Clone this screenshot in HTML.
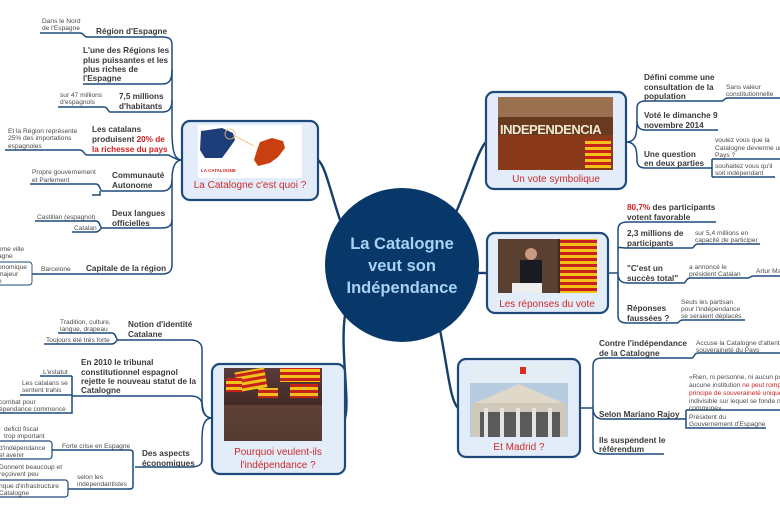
<!DOCTYPE html>
<html><head><meta charset="utf-8"><style>
html,body{margin:0;padding:0;background:#fff;width:780px;height:516px;overflow:hidden}
svg{display:block}
text{font-family:"Liberation Sans",sans-serif}
.m{font-size:8.2px;font-weight:bold;fill:#3a3a3a}
.s{font-size:6.6px;fill:#4a4a4a}
.r{fill:#d02020}
.l{fill:none;stroke:#1d4a7a;stroke-width:1.5}
.t{fill:none;stroke:#163e6b;stroke-width:2.4}
.box{fill:#e3edfa;stroke:#1d4a7a;stroke-width:2.2}
.lab{font-size:10px;fill:#d02a2a;text-anchor:middle}
</style></head><body>
<svg width="780" height="516" viewBox="0 0 780 516" xmlns="http://www.w3.org/2000/svg">
<defs>
<linearGradient id="crowd" x1="0" y1="0" x2="0" y2="1"><stop offset="0" stop-color="#5a3a3a"/><stop offset="1" stop-color="#2a1a14"/></linearGradient>
<pattern id="flag" width="6" height="6" patternUnits="userSpaceOnUse"><rect width="6" height="6" fill="#f2c21a"/><rect width="6" height="3" fill="#c8201a"/></pattern>
</defs>

<!-- center connectors -->
<path class="t" d="M340,220 C330,190 325,165 318,160"/>
<path class="t" d="M345,315 C340,350 350,400 345,418"/>
<path class="t" d="M455,215 C470,180 478,150 486,142"/>
<path class="t" d="M478,273 L487,273"/>
<path class="t" d="M440,330 C448,370 450,400 458,408"/>

<!-- center circle -->
<circle cx="402" cy="265" r="77" fill="#073869"/>
<text x="402" y="249" text-anchor="middle" font-size="16.5" font-weight="bold" fill="#a9d1f5">La Catalogne</text>
<text x="402" y="271" text-anchor="middle" font-size="16.5" font-weight="bold" fill="#a9d1f5">veut son</text>
<text x="402" y="293" text-anchor="middle" font-size="16.5" font-weight="bold" fill="#a9d1f5">Indépendance</text>

<!-- LEFT TOP box -->
<rect class="box" x="182" y="121" width="136" height="79" rx="8"/>
<rect x="198" y="125" width="104" height="53" fill="#fff"/>
<path d="M201,131 L222,128 L233,133 L235,140 L228,150 L222,158 L205,158 L200,150 Z" fill="#1e3e7a"/>
<circle cx="230" cy="134" r="5" fill="none" stroke="#f4b870" stroke-width="0.8"/>
<path d="M235,136 L254,146" stroke="#f4b870" stroke-width="0.8"/>
<path d="M260,142 L272,138 L283,141 L285,148 L278,157 L270,163 L258,166 L254,160 L257,150 Z" fill="#c8400f"/>
<text x="201" y="172" font-size="4.5" font-weight="bold" fill="#d02020">LA CATALOGNE</text>
<text x="250" y="188" class="lab">La Catalogne c'est quoi ?</text>

<!-- left top branches -->
<path class="l" d="M182,160 C174,160 172,150 172,130 L172,45 C172,38 168,37 162,37 L87,37 C84,37 84,33 80,33 L40,33"/>
<path class="l" d="M172,70 C172,82 168,84 162,84 L83,84"/>
<path class="l" d="M172,100 C172,110 168,112 162,112 L110,112 C108,112 108,107 104,107 L58,107"/>
<path class="l" d="M182,160 C175,160 172,156 168,155 L87,155 C84,155 84,150 80,150 L5,150"/>
<path class="l" d="M182,160 C174,160 172,170 172,180 C172,188 168,191 162,191 L102,191 C100,191 100,184 96,184 L30,184 M100,191 L100,195 L92,195"/>
<path class="l" d="M172,180 L172,220 C172,226 168,228 162,228 L102,228 C100,228 100,221 96,221 L35,221 M102,228 C100,228 100,232 96,232 L72,232"/>
<path class="l" d="M172,220 L172,265 C172,272 168,274 162,274 L80,274 C76,274 76,274 72,274 L32,274"/>
<rect x="-6" y="262" width="38" height="23" rx="3" fill="#fff" stroke="#1d4a7a" stroke-width="0.9"/>

<text class="m" x="96" y="34">Région d'Espagne</text>
<text class="s" x="42" y="23">Dans le Nord</text><text class="s" x="42" y="30">de l'Espagne</text>
<text class="m" x="83" y="53">L'une des Régions les</text>
<text class="m" x="83" y="63">plus puissantes et les</text>
<text class="m" x="83" y="72">plus riches de</text>
<text class="m" x="83" y="81">l'Espagne</text>
<text class="m" x="119" y="99">7,5 millions</text>
<text class="m" x="119" y="109">d'habitants</text>
<text class="s" x="60" y="97">sur 47 millions</text><text class="s" x="60" y="104">d'espagnols</text>
<text class="m" x="92" y="132">Les catalans</text>
<text class="m" x="92" y="142">produisent <tspan class="r">20% de</tspan></text>
<text class="m" x="92" y="152"><tspan class="r">la richesse du pays</tspan></text>
<text class="s" x="8" y="133">Et la Région représente</text><text class="s" x="8" y="140">25% des importations</text><text class="s" x="8" y="148">espagnoles</text>
<text class="m" x="112" y="178">Communauté</text><text class="m" x="112" y="188">Autonome</text>
<text class="s" x="32" y="174">Propre gouvernement</text><text class="s" x="32" y="182">et Parlement</text>
<text class="m" x="112" y="216">Deux langues</text><text class="m" x="112" y="226">officielles</text>
<text class="s" x="37" y="219">Castillan (espagnol)</text>
<text class="s" x="74" y="230">Catalan</text>
<text class="m" x="86" y="271">Capitale de la région</text>
<text class="s" x="41" y="271">Barcelone</text>
<text class="s" x="-2" y="251">ème ville</text><text class="s" x="-2" y="258">agne</text>
<text class="s" x="-2" y="269">onomique</text><text class="s" x="-2" y="276"> majeur</text><text class="s" x="-2" y="283">e</text>

<!-- LEFT BOTTOM box -->
<rect class="box" x="212" y="364" width="133" height="110" rx="8"/>
<rect x="224" y="368" width="98" height="73" fill="url(#crowd)"/>
<rect x="236" y="370" width="30" height="20" fill="url(#flag)" transform="rotate(-10 250 380)"/>
<rect x="280" y="368" width="40" height="14" fill="url(#flag)"/>
<rect x="226" y="378" width="16" height="14" fill="url(#flag)"/>
<rect x="290" y="384" width="28" height="14" fill="url(#flag)"/>
<rect x="258" y="388" width="20" height="10" fill="url(#flag)"/>
<rect x="224" y="405" width="98" height="36" fill="#6a4a40" opacity="0.7"/>
<text x="278" y="455" class="lab">Pourquoi veulent-ils</text>
<text x="278" y="468" class="lab">l'indépendance ?</text>

<path class="l" d="M212,418 C204,418 202,410 202,400 L202,350 C202,343 198,340 190,340 L118,340 C116,340 116,333 112,333 L58,333 M118,340 C116,340 116,344 112,344 L44,344"/>
<path class="l" d="M212,418 C204,418 202,410 202,405 C202,399 198,396 190,396 L72,396 M72,376 L72,413 C72,413 40,413 0,413 M72,376 L40,376 M72,395 L20,395"/>
<path class="l" d="M212,418 C204,418 202,426 202,440 L202,460 C202,465 198,467 190,467 L135,467 M133,453 C133,450 131,450 128,450 L52,450 M133,453 L133,486 C133,489 131,489 128,489 L68,489"/>
<rect x="-6" y="441" width="58" height="18" rx="3" fill="none" stroke="#1d4a7a" stroke-width="1.2"/>
<rect x="-6" y="480" width="74" height="17" rx="3" fill="none" stroke="#1d4a7a" stroke-width="1.2"/>
<text class="m" x="128" y="327">Notion d'identité</text><text class="m" x="128" y="337">Catalane</text>
<text class="s" x="60" y="324">Tradition, culture,</text><text class="s" x="60" y="331">langue, drapeau</text>
<text class="s" x="46" y="342">Toujours été très forte</text>
<text class="m" x="81" y="365">En 2010  le tribunal</text>
<text class="m" x="81" y="375">constitutionnel espagnol</text>
<text class="m" x="81" y="384">rejette le nouveau statut de la</text>
<text class="m" x="81" y="393">Catalogne</text>
<text class="s" x="43" y="374">L'estatut</text>
<text class="s" x="22" y="385">Les catalans se</text><text class="s" x="22" y="392">sentent trahis</text>
<text class="s" x="-1" y="404">combat pour</text><text class="s" x="-1" y="411">épendance commence</text>
<text class="m" x="142" y="456">Des aspects</text><text class="m" x="142" y="466">économiques</text>
<text class="s" x="62" y="448">Forte crise en Espagne</text>
<text class="s" x="77" y="479">selon les</text><text class="s" x="77" y="486">indépendantistes</text>
<text class="s" x="4" y="431">deficit fiscal</text><text class="s" x="4" y="438">trop important</text>
<text class="s" x="-1" y="450">d'indépendance</text><text class="s" x="-1" y="457">el avenir</text>
<text class="s" x="-1" y="469">Donnent beaucoup et</text><text class="s" x="-1" y="476">reçoivent peu</text>
<text class="s" x="-1" y="488">nque d'infrastructure</text><text class="s" x="-1" y="495">Catalogne</text>

<!-- RIGHT TOP -->
<rect class="box" x="486" y="92" width="140" height="97" rx="8"/>
<rect x="498" y="97" width="115" height="73" fill="#6a3a20"/>
<rect x="498" y="97" width="115" height="20" fill="#9a7050"/>
<rect x="498" y="135" width="115" height="35" fill="#8a3a1a"/>
<rect x="585" y="140" width="26" height="28" fill="url(#flag)"/>
<text x="500" y="134" font-size="13" font-weight="bold" fill="#f0e8d0" letter-spacing="-0.5">INDEPENDENCIA</text>
<text x="556" y="182" class="lab">Un vote symbolique</text>
<path class="l" d="M626,142 C636,142 637,135 637,120 L637,108 C637,103 640,101 646,101 L722,101 C724,101 724,98 728,98 L780,98 M637,120 C637,128 640,130 646,130 L718,130 M626,142 C636,142 637,150 637,160 C637,166 640,168 646,168 L712,168 M712,159 L712,177 M712,159 L780,159 M712,177 L775,177"/>
<text class="m" x="644" y="80">Défini comme une</text><text class="m" x="644" y="90">consultation de la</text><text class="m" x="644" y="99">population</text>
<text class="s" x="726" y="89">Sans valeur</text><text class="s" x="726" y="96">constitutionnelle</text>
<text class="m" x="644" y="118">Voté le dimanche 9</text><text class="m" x="644" y="128">novembre 2014</text>
<text class="m" x="644" y="157">Une question</text><text class="m" x="644" y="166">en deux parties</text>
<text class="s" x="715" y="142">voulez vous que la</text><text class="s" x="715" y="150">Catalogne devienne un</text><text class="s" x="715" y="157">Pays ?</text>
<text class="s" x="715" y="168">souhaitez vous qu'il</text><text class="s" x="715" y="175">soit indépendant</text>

<!-- RIGHT MID -->
<rect class="box" x="487" y="233" width="121" height="80" rx="8"/>
<rect x="498" y="239" width="99" height="54" fill="#3a2a22"/>
<rect x="498" y="239" width="60" height="54" fill="#5a4030"/>
<rect x="560" y="239" width="37" height="54" fill="url(#flag)"/>
<rect x="520" y="260" width="22" height="33" fill="#1a1a22"/>
<circle cx="531" cy="254" r="6" fill="#c99a80"/>
<rect x="512" y="283" width="30" height="10" fill="#eee"/>
<text x="547" y="307" class="lab">Les réponses du vote</text>
<path class="l" d="M608,273 L618,273 C618,273 618,260 618,250 C618,246 620,248 626,248 L692,248 C694,248 694,244 698,244 L760,244 M618,250 L618,230 C618,224 621,222 628,222 L716,222 M618,273 C618,280 621,283 628,283 L684,283 C686,283 686,278 690,278 L748,278 C750,278 750,276 754,276 L780,276 M618,273 L618,316 C618,321 621,323 628,323 L677,323 C679,323 679,320 683,320 L745,320"/>
<text class="m" x="627" y="210"><tspan class="r">80,7%</tspan>  des participants</text><text class="m" x="627" y="220">votent favorable</text>
<text class="m" x="627" y="236">2,3 millions de</text><text class="m" x="627" y="246">participants</text>
<text class="s" x="695" y="235">sur 5,4 millions en</text><text class="s" x="695" y="242">capacité de participer</text>
<text class="m" x="627" y="271">"C'est un</text><text class="m" x="627" y="281">succès total"</text>
<text class="s" x="689" y="269">a annoncé le</text><text class="s" x="689" y="276">président Catalan</text>
<text class="s" x="756" y="273">Artur Ma</text>
<text class="m" x="627" y="311">Réponses</text><text class="m" x="627" y="321">faussées ?</text>
<text class="s" x="681" y="304">Seuls les partisan</text><text class="s" x="681" y="311">pour l'indépendance</text><text class="s" x="681" y="318">se seraient déplacés</text>

<!-- MADRID -->
<rect class="box" x="458" y="359" width="122" height="98" rx="8"/>
<rect x="470" y="363" width="98" height="74" fill="#b8cce0"/>
<rect x="470" y="363" width="98" height="20" fill="#e4ecf4"/>
<path d="M475,403 L519,384 L563,403 Z" fill="#e0d8c8"/>
<rect x="472" y="403" width="94" height="34" fill="#d0c8b8"/>
<rect x="480" y="412" width="80" height="25" fill="#5a5a5a"/>
<rect x="484" y="408" width="4" height="29" fill="#e4e4e4"/><rect x="500" y="408" width="4" height="29" fill="#e4e4e4"/><rect x="516" y="408" width="4" height="29" fill="#e4e4e4"/><rect x="532" y="408" width="4" height="29" fill="#e4e4e4"/><rect x="548" y="408" width="4" height="29" fill="#e4e4e4"/>
<rect x="520" y="367" width="6" height="7" fill="#d83020"/>
<text x="519" y="450" class="lab">Et Madrid ?</text>
<path class="l" d="M580,408 L593,408 C593,400 593,370 593,366 C593,360 596,358 603,358 L692,358 C694,358 694,353 698,353 L780,353 M593,408 C593,414 596,419 603,419 L686,419 M686,410 L686,428 L766,428 M686,410 L780,410 M593,408 L593,448 C593,452 596,454 603,454 L664,454"/>
<text class="m" x="599" y="346">Contre l'indépendance</text><text class="m" x="599" y="356">de la Catalogne</text>
<text class="s" x="696" y="345">Accuse la Catalogne d'attenter à la</text><text class="s" x="696" y="352">souveraineté du Pays</text>
<text class="m" x="599" y="417">Selon Mariano Rajoy</text>
<text class="s" x="689" y="379">«Rien, ni personne, ni aucun pouvoir</text>
<text class="s" x="689" y="387">aucune institution <tspan class="r">ne peut rompre le</tspan></text>
<text class="s r" x="689" y="395">principe de souveraineté unique et</text>
<text class="s" x="689" y="403">indivisible sur lequel se fonde notre vie</text>
<text class="s" x="689" y="410">commune»</text>
<text class="s" x="689" y="419">Président du</text><text class="s" x="689" y="426">Gouvernement d'Espagne</text>
<text class="m" x="599" y="443">Ils suspendent le</text><text class="m" x="599" y="452">référendum</text>
</svg>
</body></html>
